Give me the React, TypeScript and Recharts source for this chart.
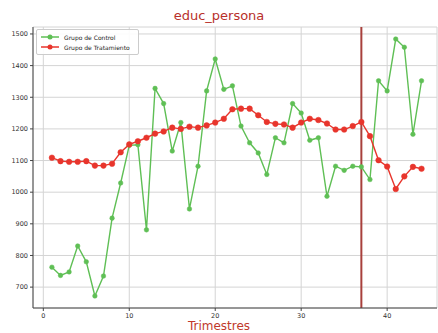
import React from "react";
import {
  LineChart,
  Line,
  XAxis,
  YAxis,
  CartesianGrid,
  ReferenceLine,
} from "recharts";

const quarters = Array.from({ length: 44 }, (_, i) => i + 1);
const controlValues = [
  763, 737, 748, 830, 780, 672, 735, 918, 1029, 1148, 1150, 881, 1328, 1280, 1130, 1220, 947, 1082, 1320, 1421, 1325,
  1336, 1209, 1156, 1124, 1056, 1172, 1156, 1280, 1250, 1164, 1172, 987, 1082, 1069, 1082, 1080, 1040, 1352, 1320, 1484,
  1458, 1183, 1352,
];
const treatmentValues = [
  1109, 1098, 1096, 1096, 1098, 1084, 1084, 1090, 1126, 1151, 1161, 1172, 1185, 1192, 1204, 1200, 1207, 1204, 1211, 1220,
  1232, 1262, 1264, 1264, 1243, 1222, 1216, 1214, 1204, 1220, 1232, 1228, 1217, 1198, 1198, 1209, 1222, 1177, 1101, 1081,
  1010, 1050, 1080, 1074,
];
const xTicks = [0, 10, 20, 30, 40];
const yTicks = [700, 800, 900, 1000, 1100, 1200, 1300, 1400, 1500];
const interventionQuarter = 37;

const GREEN = "#5fbf55";
const RED = "#e8352c";

const data = quarters.map((q, i) => ({
  q,
  control: controlValues[i],
  treatment: treatmentValues[i],
}));

function LegendBox() {
  const items = [
    { label: "Grupo de Control", color: GREEN },
    { label: "Grupo de Tratamiento", color: RED },
  ];
  return (
    <div
      style={{
        position: "absolute",
        top: 29,
        left: 36,
        border: "1px solid #ccc",
        background: "rgba(255,255,255,0.9)",
        borderRadius: 2,
        padding: "2px 8px 2px 4px",
        fontFamily: "DejaVu Sans, sans-serif",
        fontSize: 6,
        color: "#222",
      }}
    >
      {items.map((it) => (
        <div key={it.label} style={{ display: "flex", alignItems: "center", height: 10 }}>
          <svg width={18} height={8} style={{ marginRight: 5 }}>
            <line x1={0} y1={4} x2={18} y2={4} stroke={it.color} strokeWidth={1.5} />
            <circle cx={9} cy={4} r={2.5} fill={it.color} />
          </svg>
          {it.label}
        </div>
      ))}
    </div>
  );
}

export default function App() {
  const tick = { fontSize: 6.5, fill: "#333", fontFamily: "DejaVu Sans, sans-serif" };
  return (
    <div style={{ position: "fixed", left: 0, top: 0, width: 438, height: 333, background: "#fff" }}>
      <div
        style={{
          position: "absolute",
          top: 9,
          left: 0,
          width: 438,
          textAlign: "center",
          fontFamily: "DejaVu Sans, sans-serif",
          fontSize: 13,
          lineHeight: 1,
          color: "#b8302a",
        }}
      >
        educ_persona
      </div>
      <LineChart width={438} height={333} data={data} margin={{ top: 27, right: 1, left: 0, bottom: 0 }}>
        <CartesianGrid stroke="#d4d4d4" strokeWidth={1} />
        <XAxis
          dataKey="q"
          type="number"
          domain={[-1.2, 45.8]}
          ticks={xTicks}
          height={25}
          tick={tick}
          tickSize={3}
          tickMargin={2}
          stroke="#444"
          allowDataOverflow
        />
        <XAxis xAxisId="top" orientation="top" dataKey="q" type="number" domain={[-1.2, 45.8]} tick={false} tickLine={false} height={0} stroke="#444" />
        <YAxis
          domain={[634, 1522]}
          ticks={yTicks}
          width={33}
          tick={tick}
          tickSize={3}
          tickMargin={2}
          stroke="#444"
          allowDataOverflow
        />
        <YAxis yAxisId="right" orientation="right" domain={[634, 1522]} tick={false} tickLine={false} width={0} stroke="#444" />
        <ReferenceLine x={interventionQuarter} stroke="#a8403c" strokeWidth={2} />
        <Line
          dataKey="control"
          stroke={GREEN}
          strokeWidth={1.4}
          dot={{ r: 2.3, fill: GREEN, stroke: GREEN, strokeWidth: 0.5 }}
          isAnimationActive={false}
        />
        <Line
          dataKey="treatment"
          stroke={RED}
          strokeWidth={1.4}
          dot={{ r: 2.8, fill: RED, stroke: RED, strokeWidth: 0.5 }}
          isAnimationActive={false}
        />
      </LineChart>
      <LegendBox />
      <div
        style={{
          position: "absolute",
          top: 320,
          left: 0,
          width: 438,
          textAlign: "center",
          fontFamily: "DejaVu Sans, sans-serif",
          fontSize: 12,
          lineHeight: 1,
          color: "#c0392b",
        }}
      >
        Trimestres
      </div>
    </div>
  );
}
